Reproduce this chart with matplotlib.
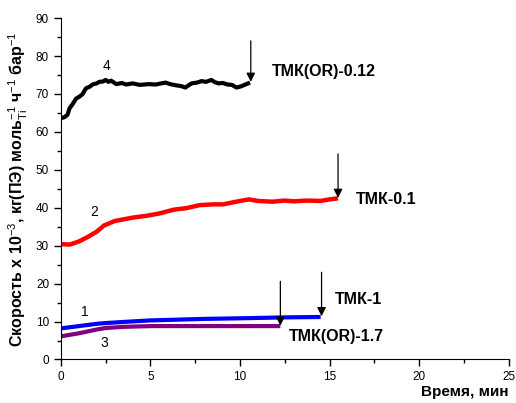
import numpy as np
import matplotlib.pyplot as plt
from matplotlib.ticker import MultipleLocator

plt.rcParams['font.family'] = ['Liberation Sans', 'DejaVu Sans']
plt.rcParams['mathtext.fontset'] = 'custom'
plt.rcParams['mathtext.rm'] = 'Liberation Sans'
plt.rcParams['mathtext.it'] = 'Liberation Sans'
plt.rcParams['mathtext.bf'] = 'Liberation Sans:bold'

# curve 1 (blue) - ТМК-1
t1 = [0, 0.5, 1.0, 1.5, 2.0, 2.5, 3.5, 5.0, 6.5, 8.0, 10.5, 12.5, 14.5]
v1 = [8.2, 8.5, 8.8, 9.1, 9.4, 9.6, 9.9, 10.3, 10.5, 10.7, 10.9, 11.1, 11.2]

# curve 3 (purple) - ТМК(OR)-1.7
t3 = [0, 0.5, 1.0, 1.5, 2.0, 2.5, 3.5, 5.0, 7.0, 9.0, 10.5, 12.25]
v3 = [6.1, 6.5, 6.9, 7.4, 7.9, 8.3, 8.6, 8.8, 8.8, 8.8, 8.8, 8.8]

# curve 2 (red) - ТМК-0.1
t2 = [0, 0.5, 1.0, 1.5, 2.0, 2.4, 3.0, 4.0, 4.8, 5.5, 6.3, 7.0, 7.75, 8.5, 9.05,
      10.0, 10.5, 11.0, 11.8, 12.5, 13.0, 13.7, 14.5, 15.0, 15.47]
v2 = [30.4, 30.3, 31.1, 32.3, 33.7, 35.3, 36.5, 37.4, 37.9, 38.5, 39.5, 39.9, 40.7,
      40.9, 40.9, 41.8, 42.2, 41.8, 41.6, 41.9, 41.7, 41.9, 41.8, 42.2, 42.5]

# curve 4 (black) - ТМК(OR)-0.12
t4 = [0, 0.2, 0.37, 0.48, 0.65, 0.85, 1.0, 1.2, 1.4, 1.6, 1.77, 2.0, 2.15, 2.35, 2.5,
      2.65, 2.8, 3.1, 3.4, 3.65, 4.0, 4.4, 4.9, 5.3, 5.6, 5.85, 6.1, 6.4, 6.7, 6.95,
      7.1, 7.3, 7.6, 7.85, 8.1, 8.4, 8.6, 8.8, 9.05, 9.3, 9.55, 9.8, 10.05, 10.25, 10.45]
v4 = [63.6, 63.9, 64.5, 66.2, 67.3, 68.8, 69.2, 69.9, 71.5, 71.9, 72.5, 72.8, 73.2, 73.3, 73.7,
      73.2, 73.5, 72.6, 72.9, 72.5, 72.8, 72.4, 72.6, 72.5, 72.8, 73.0, 72.6, 72.3, 72.1, 71.7,
      72.2, 72.8, 73.0, 73.4, 73.2, 73.7, 73.1, 72.8, 72.9, 72.5, 72.4, 71.7, 72.0, 72.4, 72.8]

fig = plt.figure(figsize=(5.16, 4.03), dpi=100)
ax = fig.add_axes([0.118, 0.108, 0.868, 0.847])

ax.plot(t2, v2, color='#ff0000', lw=3.2, solid_capstyle='butt')
ax.plot(t1, v1, color='#0000ff', lw=3.0, solid_capstyle='butt')
ax.plot(t3, v3, color='#800080', lw=3.0, solid_capstyle='butt')
ax.plot(t4, v4, color='black', lw=3.0, solid_joinstyle='round')

# arrows marking the end of each run
arrows = [(10.6, 84.0, 73.2), (15.47, 54.2, 42.6), (14.55, 23.0, 11.4), (12.25, 20.6, 8.9)]
for x, ytop, ybot in arrows:
    ax.annotate('', xy=(x, ybot), xytext=(x, ytop),
                arrowprops=dict(arrowstyle='-|>', color='black', lw=0.9,
                                mutation_scale=13, shrinkA=0, shrinkB=0))

ax.text(11.75, 75.8, 'ТМК(OR)-0.12', fontsize=11.5, fontweight='bold', va='center')
ax.text(16.45, 42.1, 'ТМК-0.1', fontsize=11.5, fontweight='bold', va='center')
ax.text(15.3, 15.9, 'ТМК-1', fontsize=11.5, fontweight='bold', va='center')
ax.text(12.75, 6.0, 'ТМК(OR)-1.7', fontsize=11.5, fontweight='bold', va='center')

ax.text(2.55, 77.5, '4', fontsize=10, ha='center', va='center')
ax.text(1.85, 39.0, '2', fontsize=10, ha='center', va='center')
ax.text(1.35, 12.6, '1', fontsize=10, ha='center', va='center')
ax.text(2.4, 4.4, '3', fontsize=10, ha='center', va='center')

ax.set_xlim(0, 25)
ax.set_ylim(0, 90)
ax.xaxis.set_major_locator(MultipleLocator(5))
ax.xaxis.set_minor_locator(MultipleLocator(2.5))
ax.yaxis.set_major_locator(MultipleLocator(10))
ax.yaxis.set_minor_locator(MultipleLocator(5))
ax.tick_params(which='major', direction='out', length=5, width=1, labelsize=8.5)
ax.tick_params(which='minor', direction='out', length=3, width=1)
ax.spines['top'].set_visible(False)
ax.spines['right'].set_visible(False)

ax.set_ylabel(r'Скорость х 10$^{-3}$, кг(ПЭ) моль$^{-1}_{Ti}$ ч$^{-1}$ бар$^{-1}$',
              fontsize=11.5, fontweight='bold', labelpad=4)
ax.set_xlabel('Время, мин', fontsize=11, fontweight='bold', loc='right', labelpad=1)

fig.savefig('out.png', dpi=100)
